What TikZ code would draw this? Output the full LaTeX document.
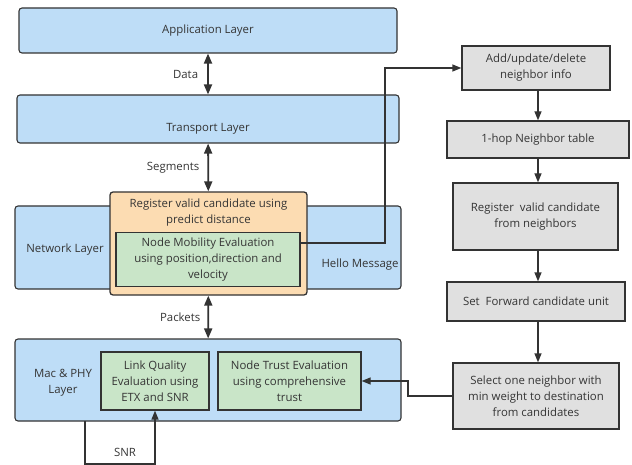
\documentclass[tikz,border=0pt]{standalone}
\usepackage{fontspec}
\setmainfont{Open Sans}
\usetikzlibrary{arrows.meta}

\definecolor{edge}{HTML}{333333}
\definecolor{txt}{HTML}{353535}
\definecolor{layerblue}{HTML}{BEDDF7}
\definecolor{candorange}{HTML}{FCDCB2}
\definecolor{evalgreen}{HTML}{C9E5C8}
\definecolor{stepgrey}{HTML}{E0E0E0}

\begin{document}
\begin{tikzpicture}[x=1pt, y=-1pt, font=\fontsize{11.4}{16}\selectfont, text=txt,
    layer/.style={draw=edge, fill=layerblue, rounded corners=3pt, line width=1.1pt, inner sep=0pt},
    evalbox/.style={draw=edge, fill=evalgreen, line width=1.3pt, align=center, inner sep=0pt},
    stepbox/.style={draw=edge, fill=stepgrey, line width=1.3pt, align=center, inner sep=0pt},
    lbl/.style={align=center, inner sep=1pt},
    dbl/.style={{Triangle[width=8pt,length=10pt]}-{Triangle[width=8pt,length=10pt]}, line width=1.8pt, draw=edge},
    flow/.style={-{Triangle[width=7pt,length=9pt]}, line width=1.3pt, draw=edge}]
    \useasboundingbox (0,0) rectangle (632,465);
    % protocol stack
    \node (app) [layer, minimum width=378pt, minimum height=45pt] at (208,30.5) {Application Layer};
    \node (trans) [layer, minimum width=382pt, minimum height=48pt, text height=27pt, text depth=2.5pt] at (208,119) {Transport Layer};
    \node (net) [layer, minimum width=386pt, minimum height=83pt] at (208,247.5) {};
    \node (netlbl) [lbl] at (65,250) {Network Layer};
    \node (hello) [lbl] at (360,265) {Hello Message};
    \node (reg) [draw=edge, fill=candorange, rounded corners=3pt, line width=1.3pt, minimum width=197pt, minimum height=103pt] at (208.5,243.5) {};
    \node (regtxt) [lbl] at (208.5,212.5) {Register valid candidate using\\predict distance};
    \node (mob) [evalbox, minimum width=184pt, minimum height=54pt] at (208,259.5) {Node Mobility Evaluation\\using position,direction and\\velocity};
    \node (mac) [layer, minimum width=386pt, minimum height=82pt] at (208,380) {};
    \node (maclbl) [lbl] at (63,383) {Mac \& PHY\\Layer};
    \node (link) [evalbox, minimum width=108pt, minimum height=58pt] at (155,381) {Link Quality\\Evaluation using\\ETX and SNR};
    \node (trust) [evalbox, minimum width=143pt, minimum height=58pt] at (289.5,381) {Node Trust Evaluation\\using comprehensive\\trust};

    \draw[dbl] (app) -- node[left=8pt, lbl] {Data} (trans);
    \draw[dbl] (trans) -- node[left=7pt, lbl] {Segments} (reg);
    \draw[dbl] (reg) -- node[left=6pt, lbl] {Packets} (mac);

    % neighbor handling
    \node (add) [stepbox, minimum width=148pt, minimum height=44pt] at (536,68) {Add/update/delete\\neighbor info};
    \node (hop) [stepbox, minimum width=182pt, minimum height=37pt] at (538,139.5) {1-hop Neighbor table};
    \node (cand) [stepbox, minimum width=165pt, minimum height=67pt] at (535.5,216.5) {Register\ \ valid candidate\\from neighbors};
    \node (fwd) [stepbox, minimum width=178pt, minimum height=39pt] at (536,301.5) {Set\ \ Forward candidate unit};
    \node (sel) [stepbox, minimum width=166pt, minimum height=66pt] at (536,396) {Select one neighbor with\\min weight to destination\\from candidates};

    \draw[flow] (add.south -| 538,0) -- (hop.north -| 538,0);
    \draw[flow] (hop.south -| 538,0) -- (cand.north -| 538,0);
    \draw[flow] (cand.south -| 538,0) -- (fwd.north -| 538,0);
    \draw[flow] (fwd.south -| 538,0) -- (sel.north -| 538,0);

    \coordinate (hturn) at (385,68);
    \draw[flow] ([yshift=16.5pt]mob.east) -| (hturn) -- (add.west);
    \coordinate (tturn) at (408,381);
    \draw[flow] (sel.west) -| (tturn) -- (trust.east);

    % SNR feedback
    \coordinate (snra) at (85,421);
    \coordinate (snrb) at (85,464);
    \draw[flow] (snra) -- (snrb) -| (link.south);
    \node (snr) [lbl] at (125,452) {SNR};
\end{tikzpicture}
\end{document}
